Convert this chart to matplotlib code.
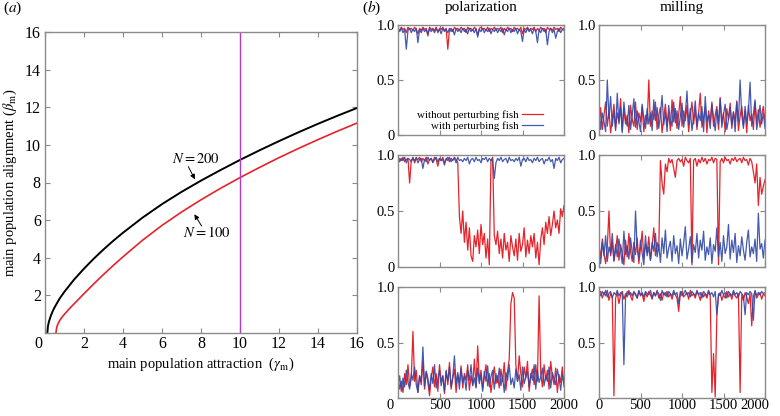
import matplotlib
matplotlib.use("Agg")
import matplotlib.pyplot as plt
from matplotlib.transforms import ScaledTranslation

plt.rcParams['font.family'] = ['Liberation Serif', 'DejaVu Serif']
plt.rcParams['mathtext.fontset'] = 'stix'

# ---------------- panel (a) data ----------------
gamma_n200 = [0.12, 0.15, 0.2, 0.3, 0.4, 0.5, 0.75, 1, 1.5, 2, 2.5, 3, 3.5, 4, 5, 6, 7, 8,
              9, 10, 11, 12, 13, 14, 15, 16]
beta_n200 = [0, 0.35, 0.6, 0.92, 1.17, 1.38, 1.83, 2.2, 2.85, 3.42, 3.95, 4.44, 4.9, 5.33,
             6.13, 6.85, 7.5, 8.1, 8.66, 9.2, 9.71, 10.2, 10.67, 11.12, 11.55, 11.96]
gamma_n100 = [0.56, 0.6, 0.65, 0.75, 0.9, 1, 1.25, 1.5, 2, 2.5, 3, 3.5, 4, 5, 6, 7, 8, 9,
              10, 11, 12, 13, 14, 15, 16]
beta_n100 = [0, 0.3, 0.45, 0.66, 0.88, 1.0, 1.29, 1.56, 2.09, 2.61, 3.11, 3.59, 4.05, 4.93,
             5.72, 6.43, 7.08, 7.69, 8.26, 8.8, 9.32, 9.81, 10.28, 10.73, 11.16]
gamma_line = 10
xticks_a = [0, 2, 4, 6, 8, 10, 12, 14, 16]
yticks_a = [2, 4, 6, 8, 10, 12, 14, 16]

# ---------------- panel (b) data (sampled every 20 time steps) ----------------
time = list(range(0, 2001, 20))

pol1_without = [.97,.95,.98,.96,.97,.93,.98,.96,.97,.95,
                .98,.96,.92,.97,.95,.98,.96,.97,.90,.98,
                .96,.97,.95,.98,.93,.97,.96,.98,.95,.97,
                .78,.96,.97,.94,.98,.96,.97,.95,.98,.96,
                .97,.93,.98,.96,.97,.95,.98,.96,.91,.97,
                .98,.96,.97,.95,.98,.94,.97,.96,.98,.95,
                .97,.96,.98,.93,.97,.95,.98,.96,.97,.94,
                .98,.96,.97,.95,.98,.92,.97,.96,.98,.95,
                .97,.96,.98,.94,.97,.95,.98,.96,.97,.93,
                .98,.96,.97,.95,.98,.96,.97,.94,.98,.96,.97]
pol1_with = [.96,.94,.97,.93,.96,.78,.95,.97,.93,.96,
             .94,.97,.84,.96,.93,.97,.94,.96,.92,.97,
             .94,.96,.93,.97,.94,.96,.92,.97,.94,.96,
             .93,.97,.94,.96,.91,.97,.94,.96,.93,.97,
             .94,.96,.92,.97,.94,.96,.93,.97,.89,.96,
             .94,.97,.93,.96,.94,.97,.92,.96,.94,.97,
             .93,.96,.94,.97,.91,.96,.94,.97,.93,.96,
             .94,.97,.92,.96,.94,.85,.96,.93,.97,.94,
             .96,.92,.97,.94,.84,.96,.93,.97,.94,.96,
             .82,.94,.97,.93,.96,.88,.94,.97,.93,.96,.95]
mill1_without = [.10,.25,.05,.18,.30,.08,.22,.02,.15,.28,
                 .06,.20,.12,.33,.04,.24,.10,.18,.02,.27,
                 .14,.08,.30,.05,.20,.12,.26,.03,.18,.10,
                 .50,.08,.22,.14,.30,.05,.18,.25,.02,.16,
                 .28,.09,.20,.04,.32,.12,.24,.06,.19,.35,
                 .08,.22,.13,.27,.03,.18,.30,.10,.24,.05,
                 .20,.38,.07,.16,.25,.02,.22,.12,.30,.08,
                 .18,.26,.05,.34,.11,.20,.03,.24,.14,.29,
                 .06,.21,.12,.31,.04,.17,.26,.09,.22,.02,
                 .27,.13,.19,.05,.30,.11,.23,.07,.18,.26,.12]
mill1_with = [.30,.05,.20,.12,.03,.50,.15,.35,.08,.22,
              .04,.38,.10,.25,.02,.30,.14,.08,.27,.05,
              .18,.33,.07,.22,.12,.03,.28,.15,.06,.24,
              .10,.20,.04,.32,.13,.25,.06,.18,.36,.09,
              .21,.03,.27,.14,.08,.30,.11,.22,.05,.17,
              .29,.07,.19,.40,.10,.24,.04,.16,.31,.08,
              .20,.13,.26,.03,.35,.12,.18,.06,.28,.15,
              .04,.23,.10,.33,.07,.19,.28,.05,.14,.25,
              .09,.21,.03,.30,.12,.50,.18,.06,.26,.11,
              .22,.48,.08,.19,.32,.05,.15,.27,.10,.20,.06]
pol2_without = [.92,.97,.95,.98,.94,.96,.97,.75,.95,.98,
                .93,.97,.96,.98,.94,.97,.95,.98,.92,.96,
                .97,.94,.98,.96,.90,.97,.95,.98,.93,.96,
                .98,.94,.97,.95,.98,.96,.93,.45,.30,.50,
                .22,.40,.15,.35,.10,.05,.28,.18,.33,.12,
                .38,.20,.30,.08,.25,.02,.95,.98,.28,.20,
                .32,.12,.25,.08,.30,.15,.22,.05,.28,.18,
                .10,.25,.06,.30,.14,.20,.35,.09,.24,.12,
                .28,.18,.30,.08,.22,.02,.25,.35,.20,.40,
                .30,.45,.28,.38,.50,.35,.42,.30,.52,.45,.55]
pol2_with = [.96,.94,.97,.95,.98,.93,.97,.96,.94,.97,
             .95,.98,.93,.96,.97,.88,.96,.94,.98,.95,
             .97,.93,.96,.98,.94,.97,.95,.96,.91,.97,
             .95,.98,.94,.96,.97,.93,.98,.95,.96,.94,
             .97,.95,.98,.92,.96,.97,.94,.98,.95,.96,
             .93,.97,.96,.98,.94,.97,.95,.96,.79,.93,
             .97,.95,.98,.94,.96,.97,.93,.98,.95,.96,
             .94,.97,.95,.98,.90,.96,.97,.94,.98,.95,
             .96,.93,.97,.95,.98,.94,.96,.97,.92,.96,
             .95,.98,.94,.96,.88,.97,.95,.98,.93,.96,.97]
mill2_without = [.20,.08,.25,.12,.03,.18,.50,.10,.22,.05,
                 .15,.28,.06,.20,.12,.02,.24,.09,.30,.14,
                 .05,.22,.11,.26,.03,.17,.32,.08,.20,.13,
                 .27,.06,.18,.35,.10,.22,.15,.95,.75,.65,
                 .92,.85,.97,.93,.96,.88,.80,.95,.97,.94,
                 .96,.90,.98,.95,.93,.97,.02,.95,.97,.90,
                 .96,.93,.98,.94,.97,.92,.96,.95,.98,.93,
                 .97,.96,.02,.94,.97,.93,.98,.95,.96,.92,
                 .97,.95,.98,.94,.96,.97,.93,.98,.95,.96,
                 .91,.97,.94,.85,.75,.92,.55,.80,.65,.72,.78]
mill2_with = [.15,.03,.22,.10,.28,.05,.18,.12,.30,.06,
              .20,.09,.25,.14,.03,.32,.11,.19,.07,.26,
              .13,.04,.50,.16,.08,.24,.12,.02,.28,.10,
              .18,.06,.22,.14,.30,.09,.20,.04,.26,.12,
              .33,.08,.17,.23,.05,.28,.12,.19,.03,.25,
              .10,.21,.36,.07,.16,.27,.04,.20,.13,.30,
              .08,.24,.15,.32,.06,.18,.11,.26,.03,.20,
              .14,.35,.09,.22,.05,.28,.12,.18,.38,.07,
              .24,.13,.30,.04,.19,.10,.27,.15,.06,.22,
              .33,.09,.18,.12,.25,.05,.48,.16,.21,.08,.24]
pol3_without = [.20,.08,.15,.05,.22,.12,.30,.10,.18,.60,
                .15,.25,.05,.20,.12,.33,.08,.24,.14,.02,
                .18,.28,.10,.22,.06,.30,.15,.20,.04,.25,
                .12,.32,.08,.18,.26,.05,.21,.14,.29,.09,
                .22,.16,.30,.07,.20,.12,.35,.10,.47,.15,
                .25,.08,.19,.30,.11,.22,.05,.17,.28,.13,
                .20,.09,.26,.15,.32,.07,.24,.35,.85,.95,
                .90,.30,.15,.38,.22,.10,.28,.18,.33,.06,
                .20,.26,.12,.30,.15,.92,.22,.10,.30,.16,
                .25,.08,.33,.19,.12,.27,.05,.21,.14,.28,.10]
pol3_with = [.12,.20,.06,.18,.10,.25,.14,.08,.22,.16,
             .28,.12,.05,.20,.15,.46,.10,.24,.18,.07,
             .22,.13,.30,.09,.17,.25,.11,.20,.06,.24,
             .15,.28,.10,.19,.38,.12,.23,.08,.26,.14,
             .20,.07,.25,.16,.30,.11,.18,.09,.27,.13,
             .21,.06,.24,.15,.29,.10,.19,.25,.08,.22,
             .14,.27,.11,.20,.05,.23,.16,.30,.12,.18,
             .09,.26,.15,.21,.07,.28,.13,.19,.24,.10,
             .22,.16,.30,.08,.25,.14,.19,.27,.11,.20,
             .15,.28,.09,.23,.17,.12,.26,.18,.07,.21,.13]
mill3_without = [.93,.96,.90,.95,.92,.97,.88,.94,.91,.02,
                 .90,.95,.85,.93,.96,.89,.94,.91,.97,.92,
                 .88,.95,.93,.90,.96,.92,.94,.87,.95,.91,
                 .96,.93,.89,.95,.92,.97,.90,.94,.88,.95,
                 .92,.96,.91,.94,.89,.95,.93,.90,.78,.94,
                 .96,.91,.93,.95,.89,.97,.92,.94,.90,.96,
                 .93,.88,.95,.91,.94,.90,.96,.92,.05,.40,
                 .01,.75,.92,.95,.88,.93,.90,.96,.91,.94,
                 .89,.95,.92,.90,.94,.05,.93,.88,.95,.91,
                 .85,.94,.65,.92,.96,.90,.93,.95,.89,.94,.92]
mill3_with = [.95,.92,.96,.93,.97,.91,.94,.96,.90,.95,
              .93,.97,.92,.95,.94,.30,.91,.96,.93,.95,
              .92,.96,.94,.90,.97,.93,.95,.91,.96,.94,
              .93,.97,.90,.95,.92,.96,.94,.88,.97,.93,
              .95,.91,.96,.94,.92,.97,.93,.95,.85,.96,
              .92,.94,.97,.93,.95,.91,.96,.94,.92,.97,
              .93,.95,.90,.96,.94,.92,.97,.93,.95,.91,
              .96,.75,.94,.92,.97,.93,.95,.90,.96,.94,
              .92,.97,.93,.95,.91,.96,.94,.92,.75,.95,
              .93,.96,.94,.70,.97,.92,.95,.93,.96,.94,.95]

xticks_b = [0, 500, 1000, 1500, 2000]
yticks_b = [0, 0.5, 1.0]
ytick_labels_b = ['0', '0.5', '1.0']
col_titles = ['polarization', 'milling']
legend_labels = ['without perturbing fish', 'with perturbing fish']

RED = '#e5232b'
BLUE = '#3048a8'
GREY = '#8a8a8a'

W, H = 780, 416
fig = plt.figure(figsize=(W / 100, H / 100), dpi=100)


def px_axes(x0, y0, x1, y1):
    return fig.add_axes([x0 / W, 1 - y1 / H, (x1 - x0) / W, (y1 - y0) / H])


def style(ax, labelsize):
    for s in ax.spines.values():
        s.set_color(GREY)
        s.set_linewidth(1.0)
    ax.tick_params(direction='in', length=3.5, width=0.8, color=GREY,
                   top=True, right=True, labelsize=labelsize, pad=3)


def shift(label, dx_px):
    label.set_transform(label.get_transform() +
                        ScaledTranslation(dx_px / 100, 0, fig.dpi_scale_trans))


# ---------------- panel (a) ----------------
axa = px_axes(45, 32, 357, 333)
axa.plot(gamma_n200, beta_n200, color='black', lw=1.4)
axa.plot(gamma_n100, beta_n100, color=RED, lw=1.2)
axa.axvline(gamma_line, color='#b03cc0', lw=1.0)
axa.set_xlim(0, 16)
axa.set_ylim(0, 16)
axa.set_xticks(xticks_a)
axa.set_yticks(yticks_a)
style(axa, 11.5)
axa.tick_params(axis='x', pad=2)
lab0 = axa.get_xticklabels()[0]
lab0.set_ha('right')
shift(lab0, -3)
axa.set_xlabel(r'main population attraction  ($\gamma_{\rm m}$)', fontsize=10.5, labelpad=3)
axa.set_ylabel(r'main population alignment ($\beta_{\rm m}$)', fontsize=10.5)
axa.yaxis.set_label_coords(-0.083, 0.5)

arrow_kw = dict(arrowstyle='-|>', color='black', lw=0.7, mutation_scale=7,
                shrinkA=0, shrinkB=0)
axa.annotate('', xy=(7.69, 8.17), xytext=(7.35, 8.84), arrowprops=arrow_kw)
axa.text(7.74, 9.25, r'$N = 200$', ha='center', va='center', fontsize=10.5)
axa.annotate('', xy=(7.66, 6.31), xytext=(8.03, 5.69), arrowprops=arrow_kw)
axa.text(8.29, 5.33, r'$N = 100$', ha='center', va='center', fontsize=10.5)

fig.text(3 / W, 1 - 8 / H, r'($a$)', ha='left', va='center', fontsize=11)
fig.text(362 / W, 1 - 8 / H, r'($b$)', ha='left', va='center', fontsize=11)

# ---------------- panel (b) ----------------
rows_px = [(25, 135), (155, 267), (287, 398)]
cols_px = [(398, 564), (599, 765)]
series = [[(pol1_without, pol1_with), (mill1_without, mill1_with)],
          [(pol2_without, pol2_with), (mill2_without, mill2_with)],
          [(pol3_without, pol3_with), (mill3_without, mill3_with)]]

for r, (y0, y1) in enumerate(rows_px):
    for c, (x0, x1) in enumerate(cols_px):
        ax = px_axes(x0, y0, x1, y1)
        red_vals, blue_vals = series[r][c]
        ax.plot(time, red_vals, color=RED, lw=0.9, label=legend_labels[0])
        ax.plot(time, blue_vals, color=BLUE, lw=0.9, alpha=0.9, label=legend_labels[1])
        ax.set_xlim(0, 2000)
        ax.set_ylim(0, 1)
        ax.set_xticks(xticks_b)
        ax.set_yticks(yticks_b)
        style(ax, 10.5)
        ax.tick_params(axis='y', pad=2)
        ax.tick_params(axis='x', pad=1)
        if r < 2:
            ax.set_yticklabels(ytick_labels_b)
            ax.set_xticklabels([])
        else:
            ax.set_yticklabels([''] + ytick_labels_b[1:])
            labs = ax.get_xticklabels()
            if c == 0:
                labs[0].set_ha('right')
                shift(labs[0], -4)
            else:
                labs[-1].set_ha('right')
                shift(labs[-1], 4)
        if r == 0:
            fig.text((x0 + x1) / 2 / W, 1 - 8 / H, col_titles[c], ha='center',
                     va='center', fontsize=11)
        if r == 0 and c == 0:
            ax.legend(loc='lower right', bbox_to_anchor=(0.875, 0.04),
                      frameon=False, markerfirst=False, fontsize=7.8,
                      handlelength=2.0, borderaxespad=0, borderpad=0,
                      labelspacing=0.1, handletextpad=0.3)

fig.savefig('out.png', dpi=100, facecolor='white')
